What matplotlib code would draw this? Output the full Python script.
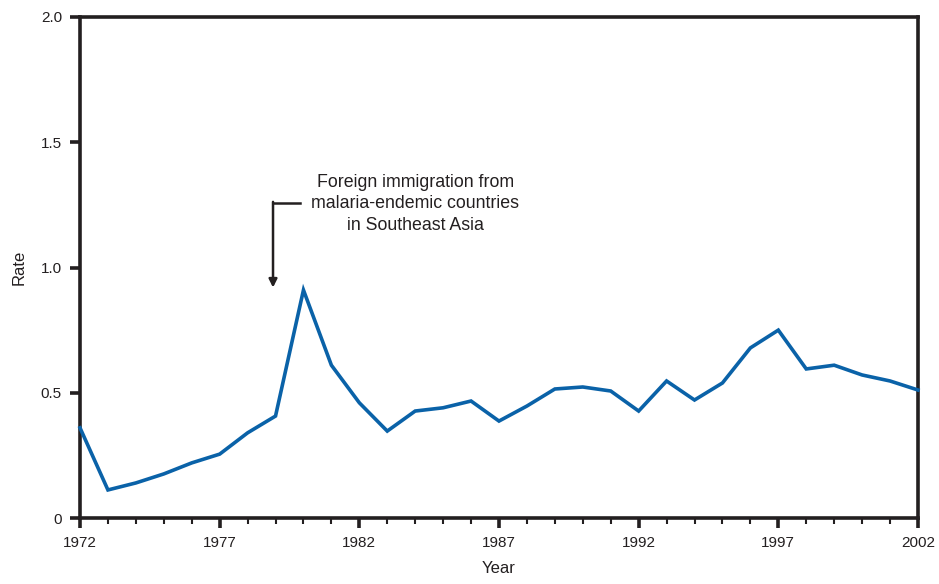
import matplotlib
matplotlib.use('Agg')
import matplotlib.pyplot as plt
from matplotlib.ticker import MultipleLocator

plt.rcParams['font.family'] = ['Liberation Sans', 'DejaVu Sans']

years = list(range(1972, 2003))
rate = [0.36, 0.112, 0.14, 0.176, 0.22, 0.255, 0.34, 0.407, 0.91, 0.61,
        0.46, 0.347, 0.427, 0.44, 0.467, 0.387, 0.447, 0.515, 0.523, 0.507,
        0.427, 0.547, 0.471, 0.539, 0.679, 0.75, 0.595, 0.61, 0.571, 0.547,
        0.511]

fig = plt.figure(figsize=(9.39, 5.84), dpi=100)
ax = fig.add_axes([0.0852, 0.113, 0.8924, 0.8579])

ax.plot(years, rate, color='#0a62a8', lw=2.6, solid_joinstyle='miter', clip_on=False, zorder=3)

ax.set_xlim(1972, 2002)
ax.set_ylim(0, 2.0)
ax.set_xticks(range(1972, 2003, 5))
ax.xaxis.set_minor_locator(MultipleLocator(1))
ax.set_yticks([0, 0.5, 1.0, 1.5, 2.0])
ax.set_yticklabels(['0', '0.5', '1.0', '1.5', '2.0'])

for s in ax.spines.values():
    s.set_linewidth(2.6)
    s.set_color('#231f20')
ax.tick_params(axis='both', which='major', direction='out', width=2.6, length=7,
               color='#231f20', labelsize=11, labelcolor='#231f20', pad=6)
ax.tick_params(axis='x', which='minor', direction='out', width=1.5, length=4, color='#231f20')
ax.tick_params(axis='y', which='minor', left=False)

ax.set_xlabel('Year', fontsize=12, color='#231f20', labelpad=8)
ax.set_ylabel('Rate', fontsize=12, color='#231f20', labelpad=10)

# annotation with bracket arrow
ax.plot([1979.88, 1978.91], [1.257, 1.257], color='#231f20', lw=1.8)
ax.annotate('', xy=(1978.91, 0.92), xytext=(1978.91, 1.262),
            arrowprops=dict(arrowstyle='-|>', color='#231f20', lw=1.8,
                            mutation_scale=12, shrinkA=0, shrinkB=0))
ax.text(1984.0, 1.255, 'Foreign immigration from\nmalaria-endemic countries\nin Southeast Asia',
        ha='center', va='center', fontsize=12.8, color='#231f20', linespacing=1.35)

fig.savefig('out.png', dpi=100)
